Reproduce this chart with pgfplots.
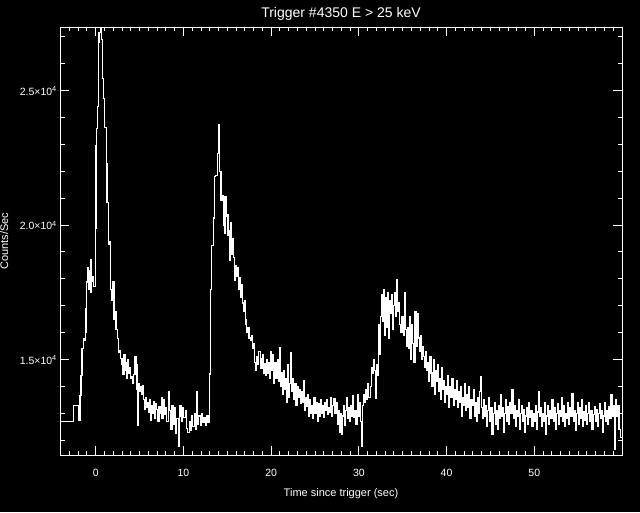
\documentclass[border=0pt]{standalone}
\usepackage{fontspec}
\setmainfont{Liberation Sans}
\usepackage{pgfplots}
\usepackage{pgfplotstable}
\pgfplotsset{compat=1.18}

% count rate, BATSE trigger 4350
\pgfplotstableread[row sep=\\]{
t rate \\
-4.1 12680 \\ -2.55 13290 \\ -1.98 12720 \\ -1.79 13650 \\ -1.68 14400 \\ -1.56 15400 \\ -1.41 15770 \\ -1.30 15700 \\ -1.20 16000 \\ -1.11 16900 \\
-1.03 17880 \\ -0.96 18410 \\ -0.84 17600 \\ -0.74 18300 \\ -0.64 17500 \\ -0.54 18700 \\ -0.44 17900 \\ -0.34 18100 \\ -0.27 17700 \\ -0.04 19860 \\
0.03 22970 \\ 0.11 23580 \\ 0.19 24390 \\ 0.30 26800 \\ 0.38 27170 \\ 0.53 27330 \\ 0.68 26900 \\ 0.76 25440 \\ 0.91 24700 \\ 1.02 23640 \\
1.18 22280 \\ 1.29 20850 \\ 1.44 19260 \\ 1.63 19400 \\ 1.71 17600 \\ 1.82 17200 \\ 1.94 17900 \\ 2.09 16500 \\ 2.20 16800 \\ 2.31 16130 \\
2.47 15770 \\ 2.62 15280 \\ 2.75 15350 \\ 2.85 15030 \\ 3.00 14800 \\ 3.10 14450 \\ 3.23 15200 \\ 3.35 14600 \\ 3.45 14900 \\ 3.53 14300 \\
3.65 15000 \\ 3.75 14500 \\ 3.85 14700 \\ 3.95 14300 \\ 4.10 14350 \\ 4.22 14100 \\ 4.35 14450 \\ 4.48 15100 \\ 4.60 13900 \\ 4.70 14800 \\
4.78 12550 \\ 4.86 14100 \\ 4.98 13800 \\ 5.10 14000 \\ 5.22 13700 \\ 5.32 14050 \\ 5.43 13500 \\ 5.55 13150 \\ 5.67 13600 \\ 5.78 13200 \\
5.90 13400 \\ 6.02 13050 \\ 6.14 13500 \\ 6.26 12750 \\ 6.38 13300 \\ 6.50 13000 \\ 6.62 13450 \\ 6.74 12800 \\ 6.86 13350 \\ 6.98 13150 \\
7.10 12700 \\ 7.22 13250 \\ 7.33 13000 \\ 7.45 13600 \\ 7.56 12800 \\ 7.70 13500 \\ 7.84 12950 \\ 7.98 13200 \\ 8.12 12700 \\ 8.28 13800 \\
8.40 13100 \\ 8.55 12400 \\ 8.70 13300 \\ 8.85 12600 \\ 9.00 13200 \\ 9.12 12250 \\ 9.25 12800 \\ 9.42 11750 \\ 9.52 12900 \\ 9.61 13300 \\
9.75 12700 \\ 9.90 13200 \\ 10.05 12850 \\ 10.20 13100 \\ 10.37 12450 \\ 10.50 12300 \\ 10.65 12700 \\ 10.80 12350 \\ 10.94 12900 \\ 11.08 12500 \\
11.22 13000 \\ 11.36 12400 \\ 11.51 13800 \\ 11.62 12600 \\ 11.76 12900 \\ 11.90 12550 \\ 12.05 13000 \\ 12.20 12650 \\ 12.35 12850 \\ 12.50 12550 \\
12.65 12900 \\ 12.80 12650 \\ 12.96 14460 \\ 13.11 17600 \\ 13.22 19250 \\ 13.41 20260 \\ 13.52 21800 \\ 13.68 21830 \\ 13.87 22670 \\ 13.98 23750 \\
14.13 22000 \\ 14.29 20900 \\ 14.42 21100 \\ 14.55 20000 \\ 14.65 19700 \\ 14.74 21050 \\ 14.86 20300 \\ 14.97 20400 \\ 15.08 19600 \\ 15.20 19800 \\
15.28 18700 \\ 15.35 20100 \\ 15.47 18900 \\ 15.58 19500 \\ 15.70 18780 \\ 15.80 18100 \\ 15.88 17950 \\ 15.98 18500 \\ 16.08 18100 \\ 16.20 18400 \\
16.33 17600 \\ 16.45 18050 \\ 16.55 17300 \\ 16.65 17800 \\ 16.75 17100 \\ 16.84 16800 \\ 16.95 17200 \\ 17.05 16500 \\ 17.14 16300 \\ 17.22 15990 \\
17.35 16200 \\ 17.48 15800 \\ 17.60 15700 \\ 17.72 15900 \\ 17.85 15400 \\ 17.98 15600 \\ 18.10 14900 \\ 18.22 14600 \\ 18.36 15100 \\ 18.48 14800 \\
18.60 15300 \\ 18.74 15050 \\ 18.85 14650 \\ 19.00 15200 \\ 19.10 14500 \\ 19.22 14850 \\ 19.31 14400 \\ 19.45 15000 \\ 19.58 14500 \\ 19.69 14900 \\
19.80 14300 \\ 19.92 15300 \\ 20.05 14600 \\ 20.17 15200 \\ 20.30 14100 \\ 20.42 14900 \\ 20.55 14300 \\ 20.68 15000 \\ 20.80 14200 \\ 20.92 15450 \\
21.04 14000 \\ 21.16 14500 \\ 21.28 13700 \\ 21.40 14600 \\ 21.52 13900 \\ 21.64 14300 \\ 21.76 13400 \\ 21.88 14800 \\ 22.00 13600 \\ 22.12 14100 \\
22.24 15250 \\ 22.36 13800 \\ 22.48 14300 \\ 22.60 13500 \\ 22.72 14100 \\ 22.84 13300 \\ 22.96 14000 \\ 23.08 13600 \\ 23.20 13900 \\ 23.32 13350 \\
23.44 13800 \\ 23.56 13400 \\ 23.68 14200 \\ 23.80 13100 \\ 23.92 13600 \\ 24.04 13250 \\ 24.16 13700 \\ 24.28 12900 \\ 24.40 13500 \\ 24.52 13000 \\
24.64 13300 \\ 24.76 12800 \\ 24.88 13600 \\ 25.00 13000 \\ 25.12 13400 \\ 25.24 12700 \\ 25.36 13350 \\ 25.48 12900 \\ 25.60 13500 \\ 25.72 13000 \\
25.84 13300 \\ 25.96 12850 \\ 26.08 13400 \\ 26.20 13100 \\ 26.32 13500 \\ 26.44 12950 \\ 26.56 13200 \\ 26.68 13050 \\ 26.80 13600 \\ 26.92 12900 \\
27.04 13300 \\ 27.16 13550 \\ 27.28 13000 \\ 27.40 13400 \\ 27.52 12600 \\ 27.64 13100 \\ 27.76 12300 \\ 27.88 13000 \\ 28.00 12200 \\ 28.12 12900 \\
28.24 13300 \\ 28.36 12550 \\ 28.48 13100 \\ 28.60 13600 \\ 28.72 12800 \\ 28.84 13200 \\ 28.96 12700 \\ 29.08 13300 \\ 29.20 12900 \\ 29.32 13650 \\
29.44 12850 \\ 29.56 13100 \\ 29.68 12600 \\ 29.80 13700 \\ 29.92 12900 \\ 30.04 13400 \\ 30.16 12700 \\ 30.30 11760 \\ 30.42 13300 \\ 30.54 13700 \\
30.66 13400 \\ 30.78 13900 \\ 30.90 13500 \\ 31.02 14100 \\ 31.14 13600 \\ 31.28 14000 \\ 31.40 14700 \\ 31.52 14500 \\ 31.64 15000 \\ 31.76 14600 \\
31.88 13550 \\ 32.00 14800 \\ 32.12 14400 \\ 32.24 16300 \\ 32.36 15200 \\ 32.48 16600 \\ 32.60 17400 \\ 32.70 16400 \\ 32.80 17600 \\ 32.90 15900 \\
33.00 17300 \\ 33.10 17000 \\ 33.20 16200 \\ 33.30 17500 \\ 33.40 15800 \\ 33.52 17200 \\ 33.64 16700 \\ 33.76 17400 \\ 33.88 16100 \\ 34.00 17000 \\
34.12 17500 \\ 34.24 16600 \\ 34.33 17960 \\ 34.45 16800 \\ 34.56 17100 \\ 34.68 16300 \\ 34.80 16000 \\ 34.92 16600 \\ 35.04 15900 \\ 35.16 17500 \\
35.28 16100 \\ 35.40 15500 \\ 35.52 16200 \\ 35.64 15400 \\ 35.76 16600 \\ 35.88 15000 \\ 36.00 16300 \\ 36.12 15600 \\ 36.24 14900 \\ 36.40 16800 \\
36.52 15500 \\ 36.64 16700 \\ 36.76 15800 \\ 36.90 15300 \\ 37.02 15900 \\ 37.14 15000 \\ 37.26 15500 \\ 37.38 15100 \\ 37.50 14700 \\ 37.62 15300 \\
37.74 14600 \\ 37.86 14900 \\ 37.98 14200 \\ 38.10 15100 \\ 38.22 14500 \\ 38.34 14000 \\ 38.46 15000 \\ 38.58 13700 \\ 38.70 14600 \\ 38.82 14200 \\
38.94 14800 \\ 39.06 13800 \\ 39.18 14300 \\ 39.30 13500 \\ 39.42 14700 \\ 39.54 13900 \\ 39.66 14200 \\ 39.78 13400 \\ 39.90 14000 \\ 40.02 13700 \\
40.14 14400 \\ 40.26 13200 \\ 40.38 14000 \\ 40.50 13600 \\ 40.62 14300 \\ 40.74 13300 \\ 40.86 13900 \\ 40.98 13500 \\ 41.10 14200 \\ 41.22 13200 \\
41.34 13800 \\ 41.46 13400 \\ 41.58 14000 \\ 41.70 12900 \\ 41.82 13600 \\ 41.94 13300 \\ 42.06 14100 \\ 42.18 13100 \\ 42.30 13700 \\ 42.42 13200 \\
42.54 14000 \\ 42.66 12800 \\ 42.78 13500 \\ 42.90 13300 \\ 43.02 13900 \\ 43.14 12900 \\ 43.26 13400 \\ 43.38 12700 \\ 43.50 13600 \\ 43.62 13000 \\
43.74 13800 \\ 43.86 14360 \\ 43.98 13200 \\ 44.10 12800 \\ 44.22 13500 \\ 44.34 12900 \\ 44.46 13300 \\ 44.58 12500 \\ 44.70 13100 \\ 44.82 13600 \\
44.94 12700 \\ 45.06 13200 \\ 45.18 12200 \\ 45.30 13000 \\ 45.42 13400 \\ 45.54 12600 \\ 45.66 13100 \\ 45.78 12400 \\ 45.90 13300 \\ 46.02 12800 \\
46.14 13700 \\ 46.26 12900 \\ 46.38 13200 \\ 46.50 12300 \\ 46.62 13000 \\ 46.74 13500 \\ 46.86 12700 \\ 46.98 13250 \\ 47.10 12600 \\ 47.22 13400 \\
47.34 13000 \\ 47.46 13900 \\ 47.58 12800 \\ 47.70 13300 \\ 47.82 12500 \\ 47.94 13100 \\ 48.06 12900 \\ 48.18 13500 \\ 48.30 12400 \\ 48.42 13000 \\
48.54 13300 \\ 48.66 12700 \\ 48.78 13150 \\ 48.90 12300 \\ 49.02 12900 \\ 49.14 13200 \\ 49.26 12600 \\ 49.38 13400 \\ 49.50 12850 \\ 49.62 13100 \\
49.74 12500 \\ 49.86 13000 \\ 49.98 12700 \\ 50.10 13300 \\ 50.22 12400 \\ 50.34 13050 \\ 50.46 13800 \\ 50.58 12900 \\ 50.70 13200 \\ 50.82 12500 \\
50.94 13000 \\ 51.06 12700 \\ 51.18 13400 \\ 51.30 12200 \\ 51.42 12900 \\ 51.54 13300 \\ 51.66 12600 \\ 51.78 13100 \\ 51.90 12800 \\ 52.02 13500 \\
52.14 12700 \\ 52.26 13200 \\ 52.38 12400 \\ 52.50 13000 \\ 52.62 13350 \\ 52.74 12600 \\ 52.86 13100 \\ 52.98 12900 \\ 53.10 13600 \\ 53.22 12700 \\
53.34 13300 \\ 53.46 12500 \\ 53.58 13000 \\ 53.70 12800 \\ 53.82 13400 \\ 53.94 12600 \\ 54.06 13200 \\ 54.18 12900 \\ 54.30 13750 \\ 54.42 12700 \\
54.54 13100 \\ 54.66 12350 \\ 54.78 13000 \\ 54.90 13400 \\ 55.02 12600 \\ 55.14 13200 \\ 55.26 12800 \\ 55.38 13500 \\ 55.50 12500 \\ 55.62 13050 \\
55.74 12750 \\ 55.86 13300 \\ 55.98 12600 \\ 56.10 13000 \\ 56.22 13400 \\ 56.34 12700 \\ 56.46 13100 \\ 56.58 12400 \\ 56.70 12950 \\ 56.82 13250 \\
56.94 12700 \\ 57.06 13150 \\ 57.18 12500 \\ 57.30 13000 \\ 57.42 13350 \\ 57.54 12800 \\ 57.66 13100 \\ 57.78 12300 \\ 57.90 12900 \\ 58.02 13400 \\
58.14 12700 \\ 58.26 13100 \\ 58.38 12600 \\ 58.50 13250 \\ 58.62 12800 \\ 58.74 13700 \\ 58.86 12900 \\ 58.98 13300 \\ 59.10 12600 \\ 59.20 11650 \\
59.30 13500 \\ 59.42 12900 \\ 59.54 13300 \\ 59.66 12400 \\ 59.78 12100 \\ 60.00 12100 \\
}\lc

\begin{document}
\begin{tikzpicture}[x=1pt,y=1pt]
\fill[black] (0,0) rectangle (640,512);
\begin{axis}[
    at={(60pt,57pt)}, anchor=south west,
    scale only axis, width=562pt, height=428pt,
    xmin=-4.07, xmax=60, ymin=11450, ymax=27360,
    axis line style={white, line width=0.9pt},
    every tick/.style={white, line width=0.9pt},
    major tick length=9pt, minor tick length=4.5pt,
    xtick={0,10,20,30,40,50}, xticklabels={0,10,20,30,40,50},
    minor xtick={-3,-2,...,59},
    ytick={15000,20000,25000},
    yticklabels={1.5×10\textsuperscript{4},2.0×10\textsuperscript{4},2.5×10\textsuperscript{4}},
    minor ytick={12000,13000,...,27000},
    scaled y ticks=false,
    tick label style={white, font=\fontsize{10.5}{12}\selectfont, inner sep=0pt},
    xticklabel style={anchor=base, yshift=-21pt},
    yticklabel style={anchor=base east, xshift=-3pt, yshift=-5pt},
    title={Trigger \#4350 E > 25 keV},
    title style={white, font=\fontsize{14}{16}\selectfont, inner sep=0pt,
        at={(axis description cs:0.5,1.0082)}, anchor=base},
    xlabel={Time since trigger (sec)},
    xlabel style={white, font=\fontsize{11}{13}\selectfont, inner sep=0pt,
        at={(axis description cs:0.5,-0.0958)}, anchor=base},
    ylabel={Counts/Sec},
    ylabel style={white, font=\fontsize{11}{13}\selectfont, inner sep=0pt,
        at={(axis description cs:-0.0925,0.5)}, anchor=base},
]
\addplot[const plot, white, line width=1.1pt] table[x=t, y=rate] {\lc};
\end{axis}
\pgfresetboundingbox
\useasboundingbox (0,0) rectangle (640,512);
\end{tikzpicture}
\end{document}
